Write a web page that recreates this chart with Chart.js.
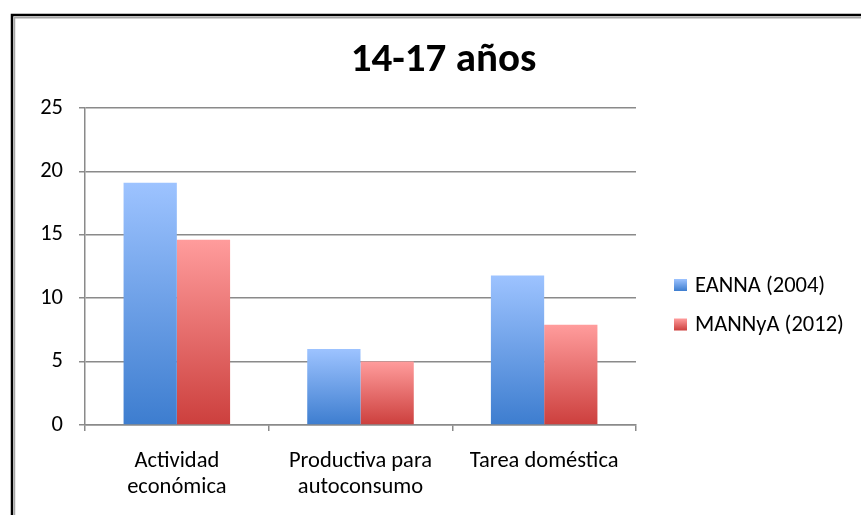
<!DOCTYPE html>
<html>
<head>
<meta charset="utf-8">
<script src="https://cdn.jsdelivr.net/npm/chart.js@4.4.0/dist/chart.umd.min.js"></script>
<style>
  html, body { margin: 0; padding: 0; background: #fff; }
  #wrap { position: relative; width: 861px; height: 515px; }
</style>
</head>
<body>
<div id="wrap"><canvas id="barCanvas" width="861" height="515"></canvas></div>
<script>
var categories = [["Actividad", "económica"], ["Productiva para", "autoconsumo"], ["Tarea doméstica"]];
var seriesNames = ["EANNA (2004)", "MANNyA (2012)"];
var eanna = [19.1, 6.0, 11.8];
var mannya = [14.6, 5.0, 7.9];
var yTicks = [0, 5, 10, 15, 20, 25];

var FONT = "Carlito, Calibri, Lato, sans-serif";
var LABEL_SIZE = 22.5;
var GRID = "#8a8a8a";
var blueStops = ["#9dc3ff", "#3d7dcf"];
var redStops = ["#ff9c9c", "#cc3f3d"];

// per-bar vertical gradient, light on top and dark at the base
function barGradient(stops) {
    return function (ctx) {
        var chart = ctx.chart;
        if (!chart.chartArea || ctx.type !== 'data') return stops[0];
        var yScale = chart.scales.y;
        var yTop = yScale.getPixelForValue(ctx.raw);
        var yBase = yScale.getPixelForValue(0);
        var g = chart.ctx.createLinearGradient(0, yTop, 0, yBase);
        g.addColorStop(0, stops[0]);
        g.addColorStop(1, stops[1]);
        return g;
    };
}

var framePlugin = {
    id: 'frame',
    beforeDraw: function (chart) {
        var c = chart.ctx;
        c.save();
        c.fillStyle = "#fff";
        c.fillRect(0, 0, chart.width, chart.height);
        c.strokeStyle = "#000";
        c.lineWidth = 2.5;
        c.beginPath();
        c.moveTo(12, chart.height);
        c.lineTo(12, 15);
        c.lineTo(chart.width, 15);
        c.stroke();
        c.strokeStyle = "#a6a6a6";
        c.lineWidth = 1.5;
        c.beginPath();
        c.moveTo(14.5, chart.height);
        c.lineTo(14.5, 17.8);
        c.lineTo(chart.width, 17.8);
        c.stroke();
        c.restore();
    }
};

// legend on the right, drawn with the same gradients as the bars
var legendPlugin = {
    id: 'sideLegend',
    afterDraw: function (chart) {
        var c = chart.ctx;
        var area = chart.chartArea;
        var x = area.right + 38;
        var y0 = (area.top + area.bottom) / 2 + 18.5;
        var stops = [blueStops, redStops];
        c.save();
        c.font = LABEL_SIZE + "px " + FONT;
        c.textBaseline = "middle";
        c.textAlign = "left";
        chart.data.datasets.forEach(function (ds, i) {
            var cy = y0 + i * 39.5;
            var g = c.createLinearGradient(0, cy - 6, 0, cy + 6);
            g.addColorStop(0, stops[i][0]);
            g.addColorStop(1, stops[i][1]);
            c.fillStyle = g;
            c.fillRect(x, cy - 6, 13, 12);
            c.fillStyle = "#000";
            c.fillText(ds.label, x + 21, cy + 1);
        });
        c.restore();
    }
};

new Chart(document.getElementById('barCanvas'), {
    type: 'bar',
    data: {
        labels: categories,
        datasets: [
            { label: seriesNames[0], data: eanna, backgroundColor: barGradient(blueStops), yAxisID: 'y' },
            { label: seriesNames[1], data: mannya, backgroundColor: barGradient(redStops), yAxisID: 'y' }
        ]
    },
    options: {
        responsive: false,
        animation: false,
        devicePixelRatio: 1,
        layout: { padding: { left: 26, right: 0, top: 0, bottom: 0 } },
        datasets: { bar: { categoryPercentage: 0.58, barPercentage: 1.0 } },
        plugins: {
            legend: { display: false },
            tooltip: { enabled: false },
            title: {
                display: true,
                text: "14-17 años",
                color: "#000",
                font: { family: FONT, size: 41, weight: 'bold', lineHeight: 1.2 },
                padding: { top: 36, bottom: 22.8 }
            }
        },
        scales: {
            x: {
                grid: { offset: true, drawOnChartArea: false, drawTicks: true, tickLength: 6, color: GRID, lineWidth: 1.5 },
                border: { color: GRID, width: 1.5 },
                ticks: { color: "#000", padding: 17.5, maxRotation: 0, font: { family: FONT, size: LABEL_SIZE, lineHeight: 1.16 } },
                afterFit: function (s) { s.height = 90; }
            },
            y: {
                min: 0,
                max: 25,
                afterBuildTicks: function (s) { s.ticks = yTicks.map(function (v) { return { value: v }; }); },
                grid: { color: GRID, lineWidth: 1.5, tickLength: 6 },
                border: { color: GRID, width: 1.5 },
                ticks: { color: "#000", padding: 16, font: { family: FONT, size: LABEL_SIZE } },
                afterFit: function (s) { s.width = 59; }
            },
            side: {
                type: 'linear',
                position: 'right',
                grid: { display: false },
                border: { display: false },
                ticks: { display: false },
                afterFit: function (s) { s.width = 225; }
            }
        }
    },
    plugins: [framePlugin, legendPlugin]
});
</script>
</body>
</html>
